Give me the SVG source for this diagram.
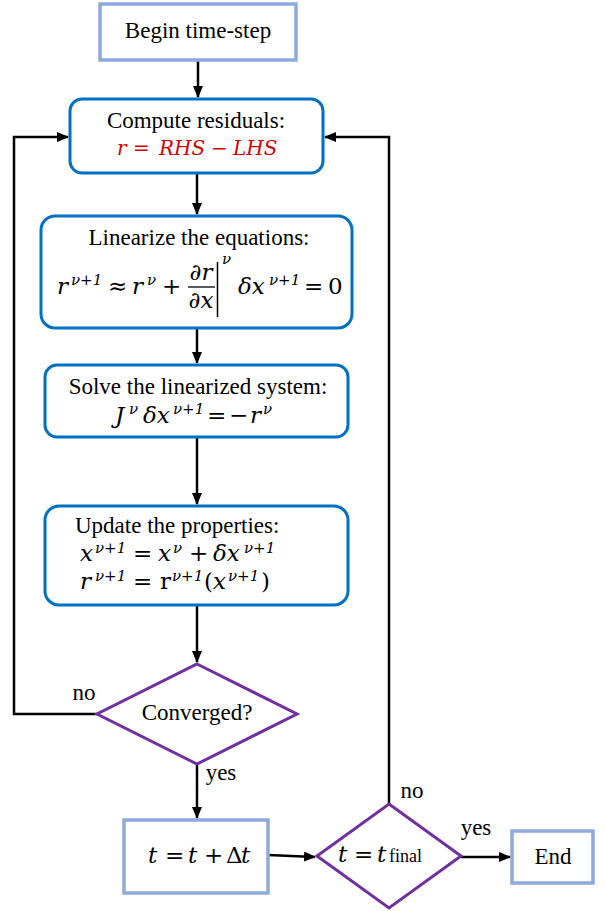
<svg xmlns="http://www.w3.org/2000/svg" width="606" height="911" viewBox="0 0 606 911">
<defs>
<style>
.t{font-family:"Liberation Serif","Times New Roman",serif;font-size:23px;fill:#000}
.m{font-family:"DejaVu Serif","Liberation Serif",serif;font-size:23px;font-style:italic;fill:#000}
.u{font-style:normal}
.sup{font-size:15px}
.rb{fill:#fff;stroke:#0070C0;stroke-width:3}
.lb{fill:#fff;stroke:#8EA9DB;stroke-width:3.5}
.dm{fill:#fff;stroke:#7030A0;stroke-width:3}
.c{fill:none;stroke:#000;stroke-width:2.5}
</style>
<marker id="ah" markerWidth="12" markerHeight="10" refX="11" refY="5" orient="auto" markerUnits="userSpaceOnUse">
<path d="M0,0 L12,5 L0,10 Z" fill="#000"/>
</marker>
</defs>
<g id="connectors">
<path class="c" d="M198,60 L198,97" marker-end="url(#ah)"/>
<path class="c" d="M197,173 L197,214" marker-end="url(#ah)"/>
<path class="c" d="M197,328 L197,363" marker-end="url(#ah)"/>
<path class="c" d="M197,437 L197,504" marker-end="url(#ah)"/>
<path class="c" d="M197,605 L197,662" marker-end="url(#ah)"/>
<path class="c" d="M197,764 L197,818" marker-end="url(#ah)"/>
<path class="c" d="M97,714 L14,714 L14,137 L68,137" marker-end="url(#ah)"/>
<path class="c" d="M389,804 L389,137 L325,137" marker-end="url(#ah)"/>
<path class="c" d="M268,855 L315,857" marker-end="url(#ah)"/>
<path class="c" d="M461,857 L510,857" marker-end="url(#ah)"/>
</g>
<g id="begin">
<rect class="lb" x="100" y="4" width="196" height="56"/>
<text class="t" x="198" y="38" text-anchor="middle">Begin time-step</text>
</g>
<g id="compute">
<rect class="rb" x="70" y="99" width="253" height="74" rx="12"/>
<text class="t" x="196" y="128" text-anchor="middle">Compute residuals:</text>
<text class="m" y="155" style="fill:#CC0000;font-size:20px"><tspan x="117">r</tspan><tspan x="133" class="u">=</tspan><tspan x="159">RHS</tspan><tspan x="211" class="u">−</tspan><tspan x="233">LHS</tspan></text>
</g>
<g id="linearize">
<rect class="rb" x="41" y="216" width="311" height="112" rx="14"/>
<text class="t" x="199" y="245" text-anchor="middle">Linearize the equations:</text>
<text class="m" y="294"><tspan x="57">r</tspan><tspan x="71" y="285" class="sup">ν+1</tspan><tspan x="108" y="294" class="u">≈</tspan><tspan x="132">r</tspan><tspan x="147" y="285" class="sup">ν</tspan><tspan x="162" y="294" class="u">+</tspan></text>
<text class="m" x="201" y="280" text-anchor="middle">∂r</text>
<line x1="188" y1="287" x2="215" y2="287" stroke="#000" stroke-width="1.3"/>
<text class="m" x="201" y="308" text-anchor="middle">∂x</text>
<line x1="217.5" y1="262" x2="217.5" y2="317" stroke="#000" stroke-width="1.5"/>
<text class="m sup" x="222" y="264">ν</text>
<text class="m" y="294"><tspan x="238">δx</tspan><tspan x="269" y="285" class="sup">ν+1</tspan><tspan x="304" y="294" class="u">=</tspan><tspan x="328" class="u">0</tspan></text>
</g>
<g id="solve">
<rect class="rb" x="45" y="365" width="303" height="72" rx="12"/>
<text class="t" x="198" y="394" text-anchor="middle">Solve the linearized system:</text>
<text class="m" y="423"><tspan x="115">J</tspan><tspan x="129" y="414" class="sup">ν</tspan><tspan x="143" y="423">δx</tspan><tspan x="173" y="414" class="sup">ν+1</tspan><tspan x="207" y="423" class="u">=</tspan><tspan x="229" class="u">−</tspan><tspan x="250">r</tspan><tspan x="263" y="414" class="sup">ν</tspan></text>
</g>
<g id="update">
<rect class="rb" x="45" y="506" width="303" height="99" rx="14"/>
<text class="t" x="75" y="533">Update the properties:</text>
<text class="m" y="561"><tspan x="80">x</tspan><tspan x="95" y="553" class="sup">ν+1</tspan><tspan x="133" y="561" class="u">=</tspan><tspan x="158">x</tspan><tspan x="173" y="553" class="sup">ν</tspan><tspan x="189" y="561" class="u">+</tspan><tspan x="213">δx</tspan><tspan x="244" y="553" class="sup">ν+1</tspan></text>
<text class="m" y="589"><tspan x="80">r</tspan><tspan x="95" y="581" class="sup">ν+1</tspan><tspan x="133" y="589" class="u">=</tspan><tspan x="160" class="u">r</tspan><tspan x="172" y="581" class="sup">ν+1</tspan><tspan x="204" y="589" class="u">(</tspan><tspan x="213">x</tspan><tspan x="228" y="581" class="sup">ν+1</tspan><tspan x="261" y="589" class="u">)</tspan></text>
</g>
<g id="converged">
<polygon class="dm" points="197,664 297,714 197,764 97,714"/>
<text class="t" x="197" y="720" text-anchor="middle">Converged?</text>
<text class="t" x="84" y="700" text-anchor="middle">no</text>
<text class="t" x="221" y="780" text-anchor="middle">yes</text>
</g>
<g id="advance">
<rect class="lb" x="124" y="820" width="144" height="73"/>
<text class="m" y="863"><tspan x="148">t</tspan><tspan x="165" class="u">=</tspan><tspan x="188">t</tspan><tspan x="204" class="u">+</tspan><tspan x="226" class="u">Δ</tspan><tspan x="241">t</tspan></text>
</g>
<g id="final">
<polygon class="dm" points="389,804 461,856 389,908 317,856"/>
<text class="m" y="862"><tspan x="338">t</tspan><tspan x="354" class="u">=</tspan><tspan x="377">t</tspan><tspan x="389" class="u" style="font-family:'Liberation Serif',serif;font-size:18px">final</tspan></text>
<text class="t" x="412" y="798" text-anchor="middle">no</text>
<text class="t" x="476" y="835" text-anchor="middle">yes</text>
</g>
<g id="end">
<rect class="lb" x="512" y="831" width="81" height="52"/>
<text class="t" x="553" y="864" text-anchor="middle">End</text>
</g>
</svg>
